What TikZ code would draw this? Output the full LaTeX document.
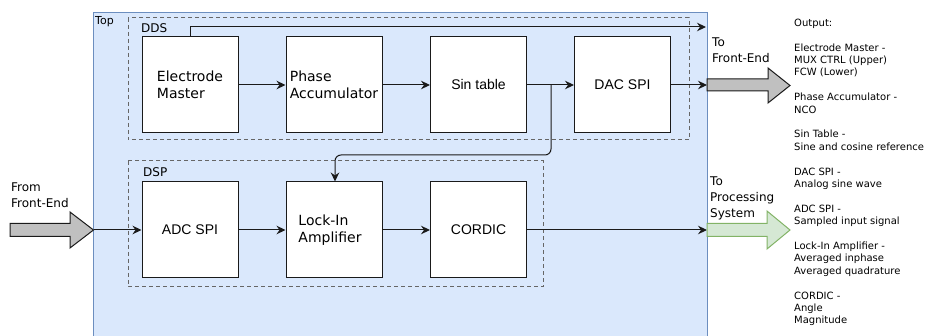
\documentclass[tikz,border=0pt]{standalone}
\usepackage{fontspec}
\setmainfont{DejaVu Sans}
\newfontfamily\arialf{Liberation Sans}
\usetikzlibrary{arrows.meta}
\definecolor{topfill}{HTML}{DAE8FC}
\definecolor{topdraw}{HTML}{6C8EBF}
\definecolor{gfill}{HTML}{D5E8D4}
\definecolor{gdraw}{HTML}{82B366}
\definecolor{dashc}{HTML}{666666}
\definecolor{arrfill}{HTML}{C0C0C0}
\definecolor{linec}{HTML}{1A1A1A}
\tikzset{
  block/.style={draw=linec, fill=white, line width=1pt, minimum width=96pt, minimum height=96pt, inner sep=0pt},
  dvtext/.style={font=\fontsize{14}{17}\selectfont, align=left},
  artext/.style={font=\arialf\fontsize{14}{17}\selectfont},
  grp/.style={draw=dashc, line width=1pt, dash pattern=on 4pt off 3pt},
  conn/.style={draw=linec, line width=1pt, -{Stealth[length=9pt,width=8.5pt,inset=3pt]}},
  lbl/.style={font=\fontsize{12}{16}\selectfont, align=left, inner sep=0pt},
  fatarrow/.style={line width=1pt},
}
\begin{document}
\begin{tikzpicture}[x=1pt,y=-1pt]
\useasboundingbox (0,0) rectangle (930,336);
% Top frame
\fill[topfill] (93.5,13) rectangle (707,340);
\draw[topdraw, line width=1pt] (93.5,340) -- (93.5,13) -- (707,13) -- (707,340);
\node[anchor=base west, font=\fontsize{11}{13}\selectfont, inner sep=0pt] (toplbl) at (95,24.5) {Top};
% groups
\draw[grp] (128,18) rectangle (689,140);
\node[anchor=base west, font=\fontsize{12}{14}\selectfont, inner sep=0pt] (ddslbl) at (141,33) {DDS};
\draw[grp] (128,161) rectangle (543,287);
\node[anchor=base west, font=\fontsize{12}{14}\selectfont, inner sep=0pt] (dsplbl) at (143,177) {DSP};
% blocks
\node[block] (em) at (190,85) {};
\node[dvtext] at (em) {Electrode\\Master};
\node[block] (pa) at (334,85) {};
\node[dvtext] at (pa) {Phase\\Accumulator};
\node[block, artext] (sin) at (478.5,85) {Sin table};
\node[block, artext] (dac) at (622.5,85) {DAC SPI};
\node[block, artext] (adc) at (190,230) {ADC SPI};
\node[block] (lia) at (334,230) {};
\node[dvtext] at ([xshift=-4pt]lia) {Lock-In\\Amplifier};
\node[block, artext] (cor) at (478.5,230) {CORDIC};
% coordinates
\coordinate (topout) at (706,27);
\coordinate (dacout) at (707,85);
\coordinate (br) at (551,85);
\coordinate (fromfe) at (93.5,230);
\coordinate (procout) at (707,230);
% connectors
\draw[conn] (em.north) |- (topout);
\draw[conn] (em) -- (pa);
\draw[conn] (pa) -- (sin);
\draw[conn] (sin) -- (dac);
\draw[conn] (dac) -- (dacout);
\draw[conn, rounded corners=6pt] (br) -- ++(0,70) -| ([xshift=1pt]lia.north);
\draw[conn] (fromfe) -- (adc);
\draw[conn] (adc) -- (lia);
\draw[conn] (lia) -- (cor);
\draw[conn] (cor) -- (procout);
% fat arrows
\draw[fatarrow, fill=arrfill, draw=linec] (707,79) -- (768,79) -- (768,68) -- (790,85.5) -- (768,103) -- (768,91) -- (707,91) -- cycle;
\draw[fatarrow, fill=arrfill, draw=linec] (10,223.5) -- (70,223.5) -- (70,212) -- (93.5,230) -- (70,248) -- (70,236.5) -- (10,236.5) -- cycle;
\draw[fatarrow, fill=gfill, draw=gdraw] (707,223.5) -- (767,223.5) -- (767,211) -- (790,230) -- (767,249) -- (767,236.5) -- (707,236.5) -- cycle;
% labels (base anchor = last line's baseline)
\node[lbl, anchor=base west] (fromlbl) at (11,207.5) {From\\Front-End};
\node[lbl, anchor=base west] (tofelbl) at (712,62.5) {To\\Front-End};
\node[lbl, anchor=base west] (toproclbl) at (710,217.5) {To\\Processing\\System};
% output description
\node[anchor=base west, align=left, inner sep=0pt, font=\fontsize{10}{12.4}\selectfont] (outtxt) at (794,324) {Output:\\[12.4pt]
Electrode Master -\\MUX CTRL (Upper)\\FCW (Lower)\\[12.4pt]
Phase Accumulator -\\NCO\\[12.4pt]
Sin Table -\\Sine and cosine reference\\[12.4pt]
DAC SPI -\\Analog sine wave\\[12.4pt]
ADC SPI -\\Sampled input signal\\[12.4pt]
Lock-In Amplifier -\\Averaged inphase\\Averaged quadrature\\[12.4pt]
CORDIC -\\Angle\\Magnitude};
\end{tikzpicture}
\end{document}
